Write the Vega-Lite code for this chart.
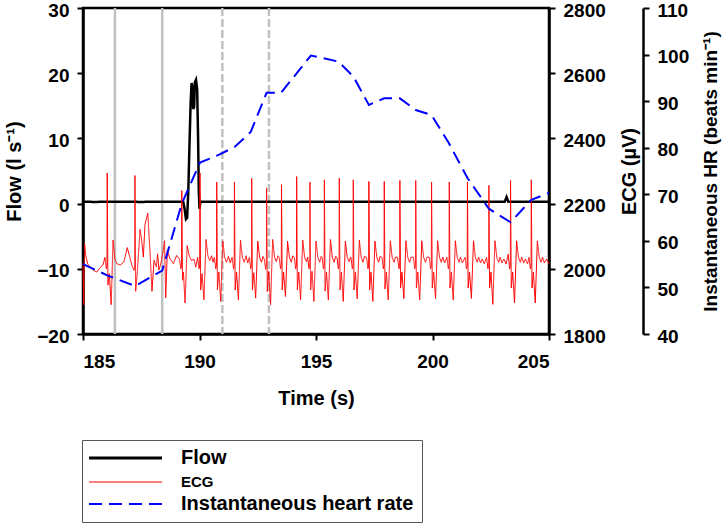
{
  "$schema": "https://vega.github.io/schema/vega-lite/v6.json",
  "width": 466,
  "height": 326,
  "autosize": {"type": "none"},
  "padding": {"left": 83, "top": 8, "right": 177, "bottom": 192},
  "background": "white",
  "config": {
    "view": {"stroke": "black", "strokeWidth": 2.5},
    "font": "Liberation Sans",
    "axis": {
      "labelFont": "Liberation Sans", "labelFontWeight": "bold", "labelFontSize": 19, "labelColor": "black",
      "titleFont": "Liberation Sans", "titleFontWeight": "bold", "titleFontSize": 20, "titleColor": "black",
      "domainColor": "black", "domainWidth": 2.5, "tickColor": "black", "tickWidth": 2, "tickSize": 6,
      "grid": false, "labelPadding": 8
    },
    "legend": {
      "orient": "none", "legendX": -1, "legendY": 432,
      "strokeColor": "#555", "fillColor": "white", "padding": 8,
      "symbolType": "stroke", "symbolSize": 5329, "symbolStrokeWidth": 2.5, "symbolOffset": 25.5,
      "labelFont": "Liberation Sans", "labelFontWeight": "bold", "labelFontSize": 20, "labelColor": "black",
      "labelOffset": 45.5, "rowPadding": 4, "labelLimit": 400
    }
  },
  "datasets": {
    "flow": [
      {"t": 185.0, "flow": 0.3}, {"t": 185.5, "flow": 0.25}, {"t": 186.0, "flow": 0.3}, {"t": 186.5, "flow": 0.28},
      {"t": 187.0, "flow": 0.3}, {"t": 187.5, "flow": 0.25}, {"t": 188.0, "flow": 0.3}, {"t": 188.5, "flow": 0.27},
      {"t": 189.0, "flow": 0.3}, {"t": 189.3, "flow": 0.3}, {"t": 189.36, "flow": -0.8}, {"t": 189.42, "flow": -2.4},
      {"t": 189.47, "flow": -2.2}, {"t": 189.52, "flow": 2}, {"t": 189.57, "flow": 9}, {"t": 189.62, "flow": 15.5},
      {"t": 189.66, "flow": 18.5}, {"t": 189.7, "flow": 17.8}, {"t": 189.73, "flow": 14.5}, {"t": 189.77, "flow": 14.8},
      {"t": 189.8, "flow": 18.6}, {"t": 189.85, "flow": 19.0}, {"t": 189.9, "flow": 17.5}, {"t": 189.94, "flow": 10},
      {"t": 189.97, "flow": 2}, {"t": 190.0, "flow": -0.8}, {"t": 190.04, "flow": 0.3}, {"t": 191.0, "flow": 0.28},
      {"t": 192.0, "flow": 0.3}, {"t": 193.0, "flow": 0.27}, {"t": 194.0, "flow": 0.3}, {"t": 195.0, "flow": 0.28},
      {"t": 196.0, "flow": 0.3}, {"t": 197.0, "flow": 0.27}, {"t": 198.0, "flow": 0.3}, {"t": 199.0, "flow": 0.28},
      {"t": 200.0, "flow": 0.3}, {"t": 201.0, "flow": 0.27}, {"t": 202.0, "flow": 0.3}, {"t": 203.1, "flow": 0.3},
      {"t": 203.18, "flow": 1.0}, {"t": 203.25, "flow": 0.3}, {"t": 204.0, "flow": 0.28}, {"t": 205.0, "flow": 0.3}
    ],
    "hr": [
      {"t": 185.0, "hr": 55.0}, {"t": 186.04, "hr": 52.6}, {"t": 187.23, "hr": 50.3}, {"t": 188.4, "hr": 53.6},
      {"t": 189.24, "hr": 68.0}, {"t": 190.02, "hr": 76.8}, {"t": 190.8, "hr": 78.4}, {"t": 191.52, "hr": 80.2},
      {"t": 192.2, "hr": 83.4}, {"t": 192.88, "hr": 91.8}, {"t": 193.5, "hr": 91.8}, {"t": 194.78, "hr": 99.8},
      {"t": 195.96, "hr": 98.5}, {"t": 196.6, "hr": 95.3}, {"t": 197.27, "hr": 89.2}, {"t": 197.93, "hr": 90.6},
      {"t": 198.6, "hr": 90.6}, {"t": 199.28, "hr": 88.1}, {"t": 199.96, "hr": 87.0}, {"t": 200.7, "hr": 81.0},
      {"t": 201.5, "hr": 73.5}, {"t": 202.42, "hr": 66.9}, {"t": 203.35, "hr": 64.0}, {"t": 204.24, "hr": 68.8},
      {"t": 205.0, "hr": 70.3}
    ],
    "ecg": [
      {"t": 185.00, "ecg": 2018}, {"t": 185.03, "ecg": 1890}, {"t": 185.07, "ecg": 2075}, {"t": 185.12, "ecg": 2040},
      {"t": 185.20, "ecg": 2015}, {"t": 185.32, "ecg": 2005}, {"t": 185.45, "ecg": 1995}, {"t": 185.60, "ecg": 1990},
      {"t": 185.75, "ecg": 2005}, {"t": 185.86, "ecg": 2012}, {"t": 185.94, "ecg": 2035}, {"t": 186.00, "ecg": 2000},
      {"t": 186.03, "ecg": 2012}, {"t": 186.04, "ecg": 2294}, {"t": 186.07, "ecg": 1950}, {"t": 186.13, "ecg": 1985},
      {"t": 186.21, "ecg": 1890}, {"t": 186.29, "ecg": 2088}, {"t": 186.37, "ecg": 2030}, {"t": 186.46, "ecg": 2015},
      {"t": 186.60, "ecg": 2012}, {"t": 186.75, "ecg": 2020}, {"t": 186.90, "ecg": 2065}, {"t": 187.00, "ecg": 2038},
      {"t": 187.10, "ecg": 2010}, {"t": 187.19, "ecg": 1995}, {"t": 187.22, "ecg": 2010}, {"t": 187.23, "ecg": 2286},
      {"t": 187.26, "ecg": 1931}, {"t": 187.33, "ecg": 1990}, {"t": 187.45, "ecg": 2121}, {"t": 187.52, "ecg": 2086},
      {"t": 187.59, "ecg": 2036}, {"t": 187.66, "ecg": 2136}, {"t": 187.78, "ecg": 2171}, {"t": 187.88, "ecg": 2046},
      {"t": 187.96, "ecg": 1931}, {"t": 188.05, "ecg": 2026}, {"t": 188.15, "ecg": 2006}, {"t": 188.20, "ecg": 2046},
      {"t": 188.26, "ecg": 1996}, {"t": 188.34, "ecg": 2016}, {"t": 188.42, "ecg": 2046}, {"t": 188.50, "ecg": 2086},
      {"t": 188.55, "ecg": 1911}, {"t": 188.62, "ecg": 2056}, {"t": 188.73, "ecg": 2031}, {"t": 188.88, "ecg": 2016},
      {"t": 189.02, "ecg": 2041}, {"t": 189.14, "ecg": 2030}, {"t": 189.20, "ecg": 2000}, {"t": 189.23, "ecg": 2012},
      {"t": 189.24, "ecg": 2240}, {"t": 189.27, "ecg": 1965}, {"t": 189.31, "ecg": 1990}, {"t": 189.38, "ecg": 1895},
      {"t": 189.47, "ecg": 2071}, {"t": 189.56, "ecg": 2040}, {"t": 189.66, "ecg": 2025}, {"t": 189.76, "ecg": 2030},
      {"t": 189.84, "ecg": 2005}, {"t": 189.92, "ecg": 2035}, {"t": 189.98, "ecg": 2000}, {"t": 190.01, "ecg": 2012},
      {"t": 190.02, "ecg": 2294}, {"t": 190.05, "ecg": 1935}, {"t": 190.11, "ecg": 1985}, {"t": 190.19, "ecg": 1905},
      {"t": 190.28, "ecg": 2090}, {"t": 190.36, "ecg": 2040}, {"t": 190.44, "ecg": 2025}, {"t": 190.52, "ecg": 2040},
      {"t": 190.58, "ecg": 2020}, {"t": 190.64, "ecg": 2035}, {"t": 190.70, "ecg": 2000}, {"t": 190.73, "ecg": 2012},
      {"t": 190.74, "ecg": 2266}, {"t": 190.77, "ecg": 1935}, {"t": 190.83, "ecg": 1990}, {"t": 190.91, "ecg": 1900},
      {"t": 191.00, "ecg": 2085}, {"t": 191.08, "ecg": 2035}, {"t": 191.16, "ecg": 2020}, {"t": 191.24, "ecg": 2038},
      {"t": 191.32, "ecg": 2018}, {"t": 191.40, "ecg": 2035}, {"t": 191.46, "ecg": 2000}, {"t": 191.49, "ecg": 2012},
      {"t": 191.50, "ecg": 2266}, {"t": 191.53, "ecg": 1935}, {"t": 191.59, "ecg": 1990}, {"t": 191.67, "ecg": 1905},
      {"t": 191.76, "ecg": 2088}, {"t": 191.84, "ecg": 2035}, {"t": 191.92, "ecg": 2020}, {"t": 192.00, "ecg": 2040},
      {"t": 192.07, "ecg": 2018}, {"t": 192.14, "ecg": 2035}, {"t": 192.20, "ecg": 2000}, {"t": 192.23, "ecg": 2012},
      {"t": 192.24, "ecg": 2278}, {"t": 192.27, "ecg": 1935}, {"t": 192.33, "ecg": 1988}, {"t": 192.41, "ecg": 1910},
      {"t": 192.50, "ecg": 2085}, {"t": 192.58, "ecg": 2035}, {"t": 192.66, "ecg": 2020}, {"t": 192.72, "ecg": 2038},
      {"t": 192.78, "ecg": 2030}, {"t": 192.84, "ecg": 1998}, {"t": 192.87, "ecg": 2012}, {"t": 192.88, "ecg": 2248},
      {"t": 192.91, "ecg": 1930}, {"t": 192.97, "ecg": 1992}, {"t": 193.05, "ecg": 1890}, {"t": 193.14, "ecg": 2090},
      {"t": 193.22, "ecg": 2035}, {"t": 193.30, "ecg": 2022}, {"t": 193.36, "ecg": 2040}, {"t": 193.42, "ecg": 2035},
      {"t": 193.48, "ecg": 2000}, {"t": 193.51, "ecg": 2012}, {"t": 193.52, "ecg": 2258}, {"t": 193.55, "ecg": 1935},
      {"t": 193.61, "ecg": 1990}, {"t": 193.69, "ecg": 1915}, {"t": 193.78, "ecg": 2085}, {"t": 193.86, "ecg": 2035},
      {"t": 193.94, "ecg": 2020}, {"t": 194.00, "ecg": 2040}, {"t": 194.07, "ecg": 2035}, {"t": 194.13, "ecg": 2000},
      {"t": 194.16, "ecg": 2012}, {"t": 194.17, "ecg": 2283}, {"t": 194.20, "ecg": 1935}, {"t": 194.26, "ecg": 1990},
      {"t": 194.34, "ecg": 1905}, {"t": 194.43, "ecg": 2088}, {"t": 194.51, "ecg": 2035}, {"t": 194.59, "ecg": 2022},
      {"t": 194.64, "ecg": 2036}, {"t": 194.70, "ecg": 2000}, {"t": 194.73, "ecg": 2012}, {"t": 194.74, "ecg": 2266},
      {"t": 194.77, "ecg": 1935}, {"t": 194.83, "ecg": 1992}, {"t": 194.91, "ecg": 1900}, {"t": 195.00, "ecg": 2085},
      {"t": 195.08, "ecg": 2035}, {"t": 195.16, "ecg": 2020}, {"t": 195.22, "ecg": 2038}, {"t": 195.26, "ecg": 2035},
      {"t": 195.32, "ecg": 2000}, {"t": 195.35, "ecg": 2012}, {"t": 195.36, "ecg": 2273}, {"t": 195.39, "ecg": 1932},
      {"t": 195.45, "ecg": 1990}, {"t": 195.53, "ecg": 1905}, {"t": 195.62, "ecg": 2090}, {"t": 195.70, "ecg": 2035},
      {"t": 195.78, "ecg": 2020}, {"t": 195.84, "ecg": 2038}, {"t": 195.90, "ecg": 2035}, {"t": 195.96, "ecg": 2000},
      {"t": 195.99, "ecg": 2012}, {"t": 196.00, "ecg": 2278}, {"t": 196.03, "ecg": 1935}, {"t": 196.09, "ecg": 1990},
      {"t": 196.17, "ecg": 1900}, {"t": 196.26, "ecg": 2085}, {"t": 196.34, "ecg": 2035}, {"t": 196.42, "ecg": 2022},
      {"t": 196.48, "ecg": 2036}, {"t": 196.50, "ecg": 2035}, {"t": 196.56, "ecg": 2000}, {"t": 196.59, "ecg": 2012},
      {"t": 196.60, "ecg": 2273}, {"t": 196.63, "ecg": 1935}, {"t": 196.69, "ecg": 1990}, {"t": 196.77, "ecg": 1908},
      {"t": 196.86, "ecg": 2088}, {"t": 196.94, "ecg": 2035}, {"t": 197.02, "ecg": 2020}, {"t": 197.08, "ecg": 2038},
      {"t": 197.17, "ecg": 2035}, {"t": 197.23, "ecg": 2000}, {"t": 197.26, "ecg": 2012}, {"t": 197.27, "ecg": 2268},
      {"t": 197.30, "ecg": 1935}, {"t": 197.36, "ecg": 1990}, {"t": 197.44, "ecg": 1900}, {"t": 197.53, "ecg": 2085},
      {"t": 197.61, "ecg": 2035}, {"t": 197.69, "ecg": 2020}, {"t": 197.75, "ecg": 2038}, {"t": 197.83, "ecg": 2035},
      {"t": 197.89, "ecg": 2000}, {"t": 197.92, "ecg": 2012}, {"t": 197.93, "ecg": 2268}, {"t": 197.96, "ecg": 1938},
      {"t": 198.02, "ecg": 1990}, {"t": 198.10, "ecg": 1905}, {"t": 198.19, "ecg": 2086}, {"t": 198.27, "ecg": 2035},
      {"t": 198.35, "ecg": 2020}, {"t": 198.41, "ecg": 2036}, {"t": 198.50, "ecg": 2035}, {"t": 198.56, "ecg": 2000},
      {"t": 198.59, "ecg": 2012}, {"t": 198.60, "ecg": 2271}, {"t": 198.63, "ecg": 1941}, {"t": 198.69, "ecg": 1990},
      {"t": 198.77, "ecg": 1909}, {"t": 198.86, "ecg": 2086}, {"t": 198.94, "ecg": 2035}, {"t": 199.02, "ecg": 2020},
      {"t": 199.08, "ecg": 2036}, {"t": 199.18, "ecg": 2035}, {"t": 199.24, "ecg": 2000}, {"t": 199.27, "ecg": 2012},
      {"t": 199.28, "ecg": 2271}, {"t": 199.31, "ecg": 1941}, {"t": 199.37, "ecg": 1990}, {"t": 199.45, "ecg": 1905},
      {"t": 199.54, "ecg": 2086}, {"t": 199.62, "ecg": 2035}, {"t": 199.70, "ecg": 2020}, {"t": 199.76, "ecg": 2036},
      {"t": 199.86, "ecg": 2035}, {"t": 199.92, "ecg": 2000}, {"t": 199.95, "ecg": 2012}, {"t": 199.96, "ecg": 2266},
      {"t": 199.99, "ecg": 1941}, {"t": 200.05, "ecg": 1990}, {"t": 200.13, "ecg": 1909}, {"t": 200.22, "ecg": 2086},
      {"t": 200.30, "ecg": 2035}, {"t": 200.38, "ecg": 2020}, {"t": 200.44, "ecg": 2036}, {"t": 200.52, "ecg": 2018},
      {"t": 200.62, "ecg": 2035}, {"t": 200.68, "ecg": 2000}, {"t": 200.71, "ecg": 2012}, {"t": 200.72, "ecg": 2266},
      {"t": 200.75, "ecg": 1941}, {"t": 200.81, "ecg": 1990}, {"t": 200.89, "ecg": 1905}, {"t": 200.98, "ecg": 2086},
      {"t": 201.06, "ecg": 2035}, {"t": 201.14, "ecg": 2020}, {"t": 201.20, "ecg": 2036}, {"t": 201.28, "ecg": 2018},
      {"t": 201.40, "ecg": 2035}, {"t": 201.46, "ecg": 2000}, {"t": 201.49, "ecg": 2012}, {"t": 201.50, "ecg": 2266},
      {"t": 201.53, "ecg": 1941}, {"t": 201.59, "ecg": 1990}, {"t": 201.67, "ecg": 1909}, {"t": 201.76, "ecg": 2086},
      {"t": 201.84, "ecg": 2035}, {"t": 201.92, "ecg": 2020}, {"t": 201.98, "ecg": 2036}, {"t": 202.06, "ecg": 2018},
      {"t": 202.14, "ecg": 2030}, {"t": 202.22, "ecg": 2015}, {"t": 202.32, "ecg": 2035}, {"t": 202.38, "ecg": 2000},
      {"t": 202.41, "ecg": 2012}, {"t": 202.42, "ecg": 2256}, {"t": 202.45, "ecg": 1941}, {"t": 202.51, "ecg": 1990},
      {"t": 202.59, "ecg": 1891}, {"t": 202.68, "ecg": 2086}, {"t": 202.76, "ecg": 2035}, {"t": 202.84, "ecg": 2020},
      {"t": 202.90, "ecg": 2036}, {"t": 202.98, "ecg": 2018}, {"t": 203.06, "ecg": 2030}, {"t": 203.16, "ecg": 2015},
      {"t": 203.25, "ecg": 2045}, {"t": 203.31, "ecg": 2000}, {"t": 203.34, "ecg": 2012}, {"t": 203.35, "ecg": 2271},
      {"t": 203.38, "ecg": 1941}, {"t": 203.44, "ecg": 1990}, {"t": 203.52, "ecg": 1895}, {"t": 203.61, "ecg": 2086},
      {"t": 203.69, "ecg": 2035}, {"t": 203.77, "ecg": 2020}, {"t": 203.83, "ecg": 2036}, {"t": 203.91, "ecg": 2018},
      {"t": 203.99, "ecg": 2030}, {"t": 204.08, "ecg": 2015}, {"t": 204.14, "ecg": 2035}, {"t": 204.20, "ecg": 2000},
      {"t": 204.23, "ecg": 2012}, {"t": 204.24, "ecg": 2273}, {"t": 204.27, "ecg": 1941}, {"t": 204.33, "ecg": 1990},
      {"t": 204.41, "ecg": 1895}, {"t": 204.50, "ecg": 2086}, {"t": 204.58, "ecg": 2035}, {"t": 204.66, "ecg": 2020},
      {"t": 204.72, "ecg": 2036}, {"t": 204.80, "ecg": 2018}, {"t": 204.90, "ecg": 2030}, {"t": 205.00, "ecg": 2015}
    ]
  },
  "layer": [
    {
      "data": {"values": [{"t": 186.37}, {"t": 188.4}]},
      "mark": {"type": "rule", "color": "#c0c0c0", "strokeWidth": 2.5},
      "encoding": {
        "x": {
          "field": "t", "type": "quantitative",
          "scale": {"domain": [185, 205], "nice": false},
          "axis": {"title": "Time (s)", "values": [185, 190, 195, 200, 205], "labelPadding": 12, "titlePadding": 17}
        }
      }
    },
    {
      "data": {"values": [{"t": 190.98}, {"t": 192.98}]},
      "mark": {"type": "rule", "color": "#c0c0c0", "strokeWidth": 2.5, "strokeDash": [8, 3]},
      "encoding": {"x": {"field": "t", "type": "quantitative"}}
    },
    {
      "data": {"name": "flow"},
      "mark": {"type": "line", "strokeWidth": 2.5},
      "encoding": {
        "x": {"field": "t", "type": "quantitative"},
        "y": {
          "field": "flow", "type": "quantitative",
          "scale": {"domain": [-20, 30], "nice": false},
          "axis": {"orient": "left", "title": "Flow (l s⁻¹)", "values": [-20, -10, 0, 10, 20, 30], "labelOffset": 2, "titlePadding": 12}
        },
        "color": {
          "datum": "Flow", "type": "nominal",
          "scale": {"domain": ["Flow", "ECG", "Instantaneous heart rate"], "range": ["black", "red", "blue"]},
          "legend": {
            "title": null,
            "labelFontSize": {"expr": "datum.label === 'ECG' ? 15 : 20"},
            "symbolStrokeWidth": {"expr": "datum.label === 'Flow' ? 3 : datum.label === 'ECG' ? 1.2 : 2.2"}
          }
        },
        "strokeDash": {
          "datum": "Flow", "type": "nominal",
          "scale": {"domain": ["Flow", "ECG", "Instantaneous heart rate"], "range": [[1, 0], [1, 0], [13, 7]]},
          "legend": {"title": null}
        }
      }
    },
    {
      "data": {"name": "ecg"},
      "mark": {"type": "line", "strokeWidth": 1},
      "encoding": {
        "x": {"field": "t", "type": "quantitative"},
        "y": {
          "field": "ecg", "type": "quantitative",
          "scale": {"domain": [1800, 2800], "nice": false},
          "axis": {"orient": "right", "title": "ECG (µV)", "format": "d", "values": [1800, 2000, 2200, 2400, 2600, 2800], "labelOffset": 2, "titleAngle": 270, "titleBaseline": "top", "titlePadding": 14}
        },
        "color": {"datum": "ECG", "type": "nominal"},
        "strokeDash": {"datum": "ECG", "type": "nominal"}
      }
    },
    {
      "data": {"name": "hr"},
      "mark": {"type": "line", "strokeWidth": 2},
      "encoding": {
        "x": {"field": "t", "type": "quantitative"},
        "y": {
          "field": "hr", "type": "quantitative",
          "scale": {"domain": [40, 110], "nice": false},
          "axis": {"orient": "right", "offset": 94, "title": "Instantaneous HR (beats min⁻¹)", "titleFontSize": 19, "values": [40, 50, 60, 70, 80, 90, 100, 110], "labelOffset": 2, "titleAngle": 270, "titleBaseline": "top", "titlePadding": 13}
        },
        "color": {"datum": "Instantaneous heart rate", "type": "nominal"},
        "strokeDash": {"datum": "Instantaneous heart rate", "type": "nominal"}
      }
    }
  ],
  "resolve": {"scale": {"y": "independent"}, "axis": {"y": "independent"}}
}
